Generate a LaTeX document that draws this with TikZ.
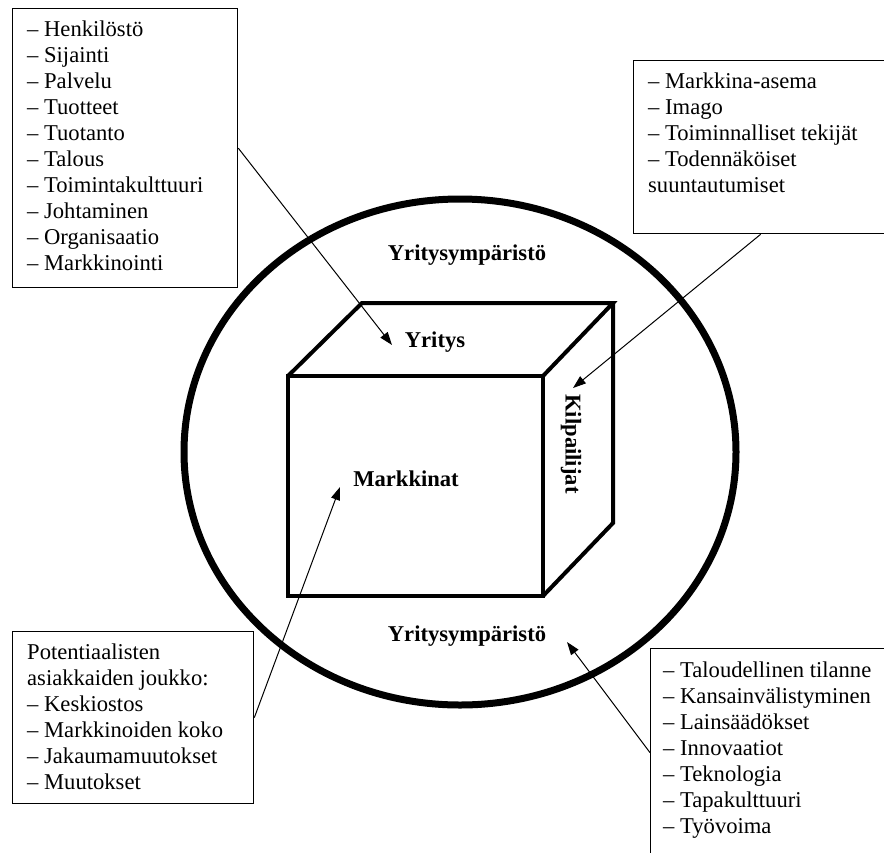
\documentclass[tikz,border=0pt]{standalone}
\usepackage{fontspec}
\setmainfont{Liberation Serif}
\usetikzlibrary{arrows.meta}
\begin{document}
\begin{tikzpicture}[x=1pt,y=-1pt,
  listtext/.style={font=\fontsize{22.6}{26}\selectfont, align=left, inner sep=0pt, anchor=north west},
  facelabel/.style={font=\fontsize{22.6}{26}\selectfont\bfseries, inner sep=0pt, anchor=base},
  infobox/.style={draw=black, line width=1.3pt, inner sep=0pt, anchor=north west, fill=white},
  pointer/.style={line width=1pt, -{Triangle[length=13pt,width=9pt]}},
  cubeline/.style={line width=4pt, line join=miter},
  ring/.style={line width=7pt}]
\useasboundingbox (0,0) rectangle (884,852);
\clip (0,0) rectangle (884,852);

% surrounding business environment
\draw[ring] (460,452) ellipse [x radius=276, y radius=253];

% the cube
\draw[cubeline] (288,376) rectangle (543,596);
\draw[cubeline] (288,376) -- (362,303) -- (613,303) -- (543,376);
\draw[cubeline] (613,303) -- (613,523) -- (543,596);

% labels on the picture
\node[facelabel] (envtop) at (467,260) {Yritysympäristö};
\node[facelabel] (envbot) at (467,641) {Yritysympäristö};
\node[facelabel] (yritys) at (435,347.5) {Yritys};
\node[facelabel] (markkinat) at (406,486) {Markkinat};
\node[facelabel, anchor=center, rotate=-90] (kilp) at (571,444) {Kilpailijat};

% information boxes
\node[infobox, minimum width=225pt, minimum height=279pt] (tl) at (12,8) {};
\node[listtext] (tltext) at (27,17.8) {\strut– Henkilöstö\\– Sijainti\\– Palvelu\\– Tuotteet\\– Tuotanto\\– Talous\\– Toimintakulttuuri\\– Johtaminen\\– Organisaatio\\– Markkinointi};

\node[infobox, minimum width=254pt, minimum height=173pt] (tr) at (633,60) {};
\node[listtext] (trtext) at (648,69.8) {\strut– Markkina-asema\\– Imago\\– Toiminnalliset tekijät\\– Todennäköiset\\suuntautumiset};

\node[infobox, minimum width=241pt, minimum height=172pt] (bl) at (12,631) {};
\node[listtext] (bltext) at (27,640.8) {\strut Potentiaalisten\\asiakkaiden joukko:\\– Keskiostos\\– Markkinoiden koko\\– Jakaumamuutokset\\– Muutokset};

\node[infobox, minimum width=260pt, minimum height=208pt] (br) at (650,648) {};
\node[listtext] (brtext) at (663,658.8) {\strut– Taloudellinen tilanne\\– Kansainvälistyminen\\– Lainsäädökset\\– Innovaatiot\\– Teknologia\\– Tapakulttuuri\\– Työvoima};

% arrow targets
\coordinate (tipY) at (392,345);
\coordinate (tipK) at (573,388);
\coordinate (tipM) at (340,487);
\coordinate (tipE) at (567,642);

% pointers
\draw[pointer] (tl.east) -- (tipY);
\draw[pointer] (tr.south) -- (tipK);
\draw[pointer] (bl.east) -- (tipM);
\draw[pointer] (br.west) -- (tipE);
\end{tikzpicture}
\end{document}
